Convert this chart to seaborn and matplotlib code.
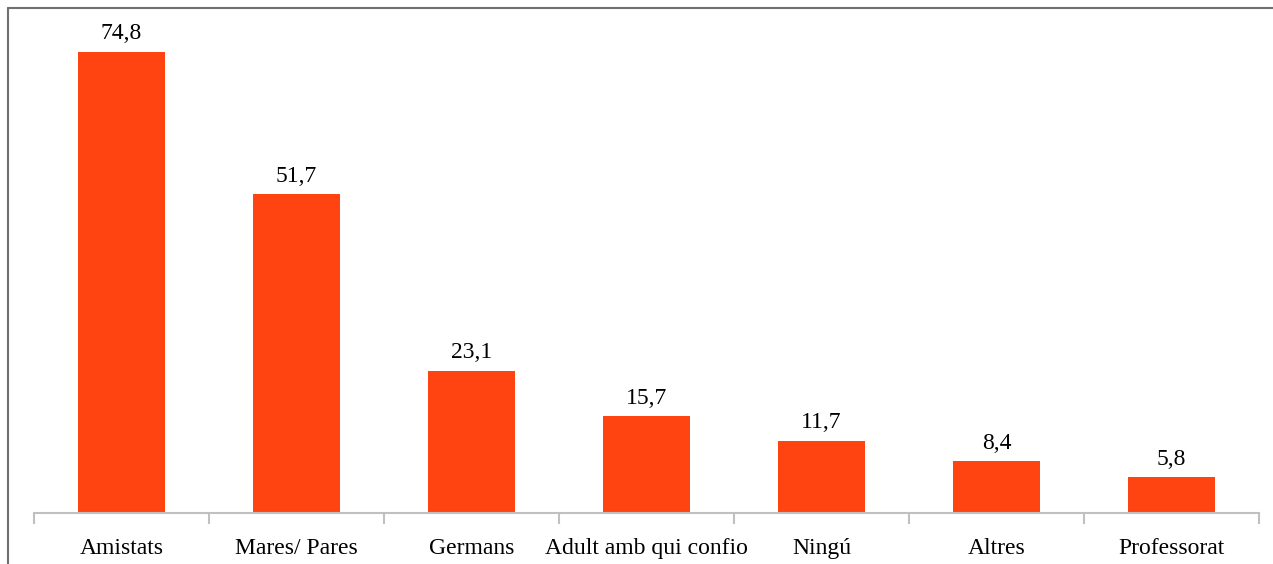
import matplotlib
matplotlib.use("Agg")
import matplotlib.pyplot as plt
import seaborn as sns
import numpy as np
import pandas as pd
from matplotlib.lines import Line2D

categories = ["Amistats", "Mares/ Pares", "Germans", "Adult amb qui confio", "Ningú", "Altres", "Professorat"]
values = [74.8, 51.7, 23.1, 15.7, 11.7, 8.4, 5.8]
labels = ["74,8", "51,7", "23,1", "15,7", "11,7", "8,4", "5,8"]

sns.set_theme(style="white")
plt.rcParams['font.family'] = ['Liberation Serif', 'DejaVu Serif']

W, H = 1273, 564
fig = plt.figure(figsize=(W / 100, H / 100), dpi=100)
ax = fig.add_axes([34 / W, 1 - 513 / H, (1259 - 34) / W, (513 - 8) / H])

df = pd.DataFrame({"cat": categories, "val": values})
sns.barplot(data=df, x="cat", y="val", color="#FF4412", saturation=1, width=0.5,
            linewidth=0, ax=ax)

ax.set_xlim(-0.5, len(categories) - 0.5)
ax.set_ylim(0, (513 - 8) / ((513 - 52) / 74.8))

for i, (v, lab) in enumerate(zip(values, labels)):
    ax.annotate(lab, (i, v), xytext=(0, 5.5), textcoords="offset points",
                ha="center", va="bottom", fontsize=17, color="#000000")

for s in ["top", "right", "left"]:
    ax.spines[s].set_visible(False)
ax.spines["bottom"].set_color("#c0c0c0")
ax.spines["bottom"].set_linewidth(1.5)
ax.set_yticks([])
ax.set_xlabel("")
ax.set_ylabel("")
ax.set_xticks(range(len(categories)))
ax.set_xticklabels(categories, fontsize=17, color="#000000")
ax.tick_params(axis="x", which="major", length=0, pad=18)
ax.set_xticks(np.arange(-0.5, len(categories)), minor=True)
ax.tick_params(axis="x", which="minor", length=8, width=1.5, color="#c0c0c0", direction="out")
ax.tick_params(axis="x", which="minor", bottom=True)

# outer frame (top and left)
fig.add_artist(Line2D([8 / W, 1], [1 - 8 / H, 1 - 8 / H], color="#707070", lw=1.5, transform=fig.transFigure))
fig.add_artist(Line2D([8 / W, 8 / W], [0, 1 - 8 / H], color="#707070", lw=1.5, transform=fig.transFigure))

fig.savefig("out.png", dpi=100, facecolor="white")
